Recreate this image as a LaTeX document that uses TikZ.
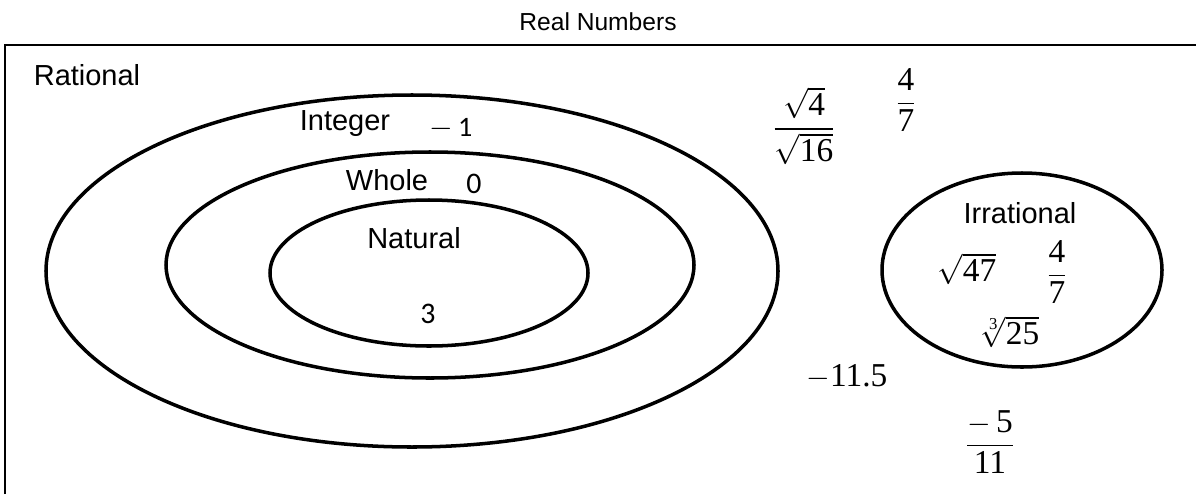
\documentclass[tikz,border=0pt]{standalone}
\usepackage{amsmath}
\usepackage{fontspec}
\setmainfont{Liberation Sans}
\newfontfamily\numfont{Carlito}
\newfontfamily\serifnum{Liberation Serif}
\newcommand{\sn}[1]{\text{\serifnum #1}}
\begin{document}
\begin{tikzpicture}[x=0.02cm,y=-0.02cm,
  setline/.style={line width=2pt},
  boxline/.style={line width=1.3pt},
  ttl/.style={inner sep=0pt,font=\fontsize{14}{16}\selectfont},
  lbl/.style={inner sep=0pt,font=\fontsize{16.5}{19}\selectfont},
  num/.style={inner sep=0pt,font=\fontsize{17}{19}\selectfont\numfont},
  mth/.style={inner sep=0pt,font=\fontsize{19}{23}\selectfont}]
\useasboundingbox (0,0) rectangle (1196,494);
% box (clipped at right and bottom)
\coordinate (bl) at (5,494);
\coordinate (tl) at (5,45);
\coordinate (tr) at (1196,45);
\draw[boxline] (bl) -- (tl) -- (tr);
\node[ttl] (title) at (598,22) {Real Numbers};
\node[lbl] (rational) at (87,75) {Rational};
% sets
\draw[setline] (412,271) ellipse [x radius=366, y radius=176];
\draw[setline] (430,265) ellipse [x radius=264, y radius=113];
\draw[setline] (429,273) ellipse [x radius=159, y radius=73];
\draw[setline] (1022,270) ellipse [x radius=140, y radius=97];
% labels
\node[lbl] (integer) at (345,124) {Integer};
\node[inner sep=0pt,font=\fontsize{16}{18}\selectfont] (m1) at (451,129) {$-$\,{\numfont 1}};
\node[lbl] (whole) at (387,180) {Whole};
\node[num] (zero) at (474,184) {0};
\node[lbl] (natural) at (414,238) {Natural};
\node[num] (three) at (428,314) {3};
\node[lbl] (irrational) at (1020,213) {Irrational};
% numbers
\node[mth] (f1) at (804,126) {$\dfrac{\sqrt{\sn{4}}}{\sqrt{\sn{16}}}$};
\node[mth] (f2) at (906,100) {$\dfrac{\sn{4}}{\sn{7}}$};
\node[mth] (s47) at (967,269) {$\sqrt{\sn{47}}$};
\node[mth] (f3) at (1057,272) {$\dfrac{\sn{4}}{\sn{7}}$};
\node[mth] (c25) at (1010,332) {$\sqrt[\sn{3}]{\sn{25}}$};
\node[mth] (d115) at (847,377) {$-\sn{11.5}$};
\node[mth] (f4) at (990,442) {$\dfrac{-\,\sn{5}}{\sn{11}}$};
\end{tikzpicture}
\end{document}
